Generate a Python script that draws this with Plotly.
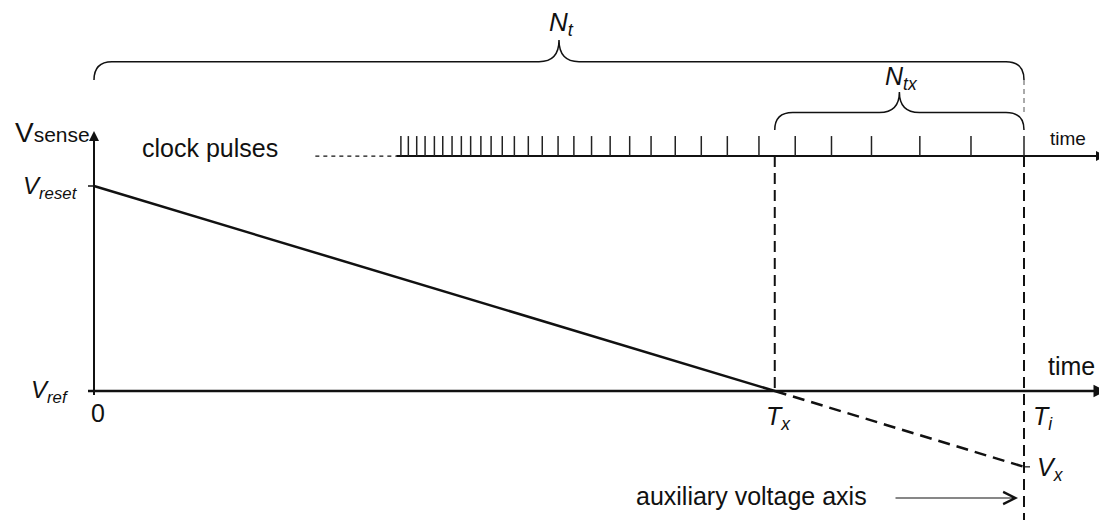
import plotly.graph_objects as go

# values
# time in units of the integration time Ti, voltage in units of (Vreset - Vref)
clock_pulses = [0.330, 0.338, 0.347, 0.356, 0.366, 0.375, 0.385, 0.395, 0.405, 0.416,
                0.427, 0.439, 0.452, 0.467, 0.482, 0.499, 0.516, 0.535, 0.555, 0.576,
                0.599, 0.625, 0.653, 0.681, 0.715, 0.754, 0.793, 0.836, 0.888, 0.943, 1.000]
t_x = 0.732
t_i = 1.0
v_reset = 1.0
v_ref = 0.0
v_x = -0.37
v_clock = 1.146
clock_start = 0.325   # first solid part of the clock line
clock_lead = 0.238    # dotted lead-in

W, H = 1107, 520
OFF = 8            # the page body adds an 8px margin
PX = 1 / 930       # time units per pixel
PY = 1 / 205       # voltage units per pixel
X0, Y0 = 94, 391   # pixel position of the origin

FONT = "Liberation Sans, Arial, sans-serif"
INK = "#111111"


def px(x):
    return (x - X0) * PX


def py(y):
    return (Y0 - y) * PY


fig = go.Figure()


def line(x, y, width=2, dash="solid", color=INK):
    fig.add_trace(go.Scatter(x=x, y=y, mode="lines", hoverinfo="skip",
                             line=dict(color=color, width=width, dash=dash)))


def label(text, x, y, size, xanchor="center"):
    fig.add_annotation(x=px(x), y=py(y), text=text, showarrow=False,
                       xanchor=xanchor, yanchor="middle",
                       font=dict(family=FONT, size=size, color=INK))


def arrow(x, y, dx, dy, head=2, width=2, size=1.0):
    fig.add_annotation(x=px(x), y=py(y), ax=px(x - dx), ay=py(y - dy),
                       axref="x", ayref="y", text="", showarrow=True,
                       arrowhead=head, arrowwidth=width, arrowsize=size,
                       arrowcolor=INK)


def brace(t0, t1, v_line, v_end, v_tip, r_end=18, r_tip=20):
    tc = (t0 + t1) / 2
    re, rt = r_end * PX, r_tip * PX
    path = (f"M {t0},{v_end} Q {t0},{v_line} {t0 + re},{v_line} "
            f"L {tc - rt},{v_line} Q {tc},{v_line} {tc},{v_tip} "
            f"Q {tc},{v_line} {tc + rt},{v_line} "
            f"L {t1 - re},{v_line} Q {t1},{v_line} {t1},{v_end}")
    fig.add_shape(type="path", path=path, xref="x", yref="y",
                  line=dict(color=INK, width=1.5))


# main axes
line([0, 0], [py(395), py(140)], width=2)
line([px(88), px(1098)], [v_ref, v_ref], width=2.5)
line([px(88), 0], [v_reset, v_reset], width=1.5)
arrow(1106, Y0, 12, 0, width=2.5, size=1)
arrow(94, 131, 0, -12, width=2, size=1)

# ramp and its extrapolation
line([0, t_x], [v_reset, v_ref], width=2.5)
line([t_x, t_i], [v_ref, v_x], width=2.5, dash="12px,7px")
line([t_i, px(1030)], [v_x, v_x], width=1.2)

# clock line with pulses
line([clock_lead, clock_start], [v_clock, v_clock], width=1.2, dash="4px,4px")
line([clock_start, px(1098)], [v_clock, v_clock], width=2)
arrow(1106, 156, 12, 0, width=2, size=1)
tick_h = 20 * PY
tx, ty = [], []
for t in clock_pulses:
    tx += [t, t, None]
    ty += [v_clock, v_clock + tick_h, None]
line(tx, ty, width=1.5, color="#222222")

# dashed markers for Tx and Ti
line([t_x, t_x], [v_clock, v_ref], width=2, dash="11px,6px")
line([t_i, t_i], [v_clock, py(H + 5)], width=2, dash="11px,6px")
line([t_i, t_i], [py(80), py(113)], width=1, dash="5px,4px", color="#555555")

# braces
brace(0, t_i, py(61.7), py(80), py(40))
brace(t_x, t_i, py(112.5), py(130), py(92))

# auxiliary axis arrow
arrow(1018, 498, 124, 0, head=5, width=1.2, size=2)

# labels
label("V<span style='font-size:21px'>sense</span>", 13, 132, 28, xanchor="left")
label("clock pulses", 210, 148, 25)
label("<i>V<sub>reset</sub></i>", 80, 187, 24, xanchor="right")
label("<i>V<sub>ref</sub></i>", 71, 391, 24, xanchor="right")
label("0", 98, 413, 25)
label("<i>T<sub>x</sub></i>", 778, 418, 25)
label("<i>T<sub>i</sub></i>", 1031, 418, 25, xanchor="left")
label("<i>V<sub>x</sub></i>", 1035, 469, 25, xanchor="left")
label("time", 1046, 366, 25, xanchor="left")
label("time", 1048, 138, 19, xanchor="left")
label("auxiliary voltage axis", 869, 496, 25, xanchor="right")
label("<i>N<sub>t</sub></i>", 561, 23, 26)
label("<i>N<sub>tx</sub></i>", 901, 78, 25)

fig.update_layout(
    width=W - OFF, height=H - OFF, showlegend=False,
    margin=dict(l=0, r=0, t=0, b=0),
    paper_bgcolor="white", plot_bgcolor="white",
    xaxis=dict(range=[px(OFF), px(W)], visible=False, fixedrange=True),
    yaxis=dict(range=[py(H), py(OFF)], visible=False, fixedrange=True),
)

fig.write_html("out.html")
